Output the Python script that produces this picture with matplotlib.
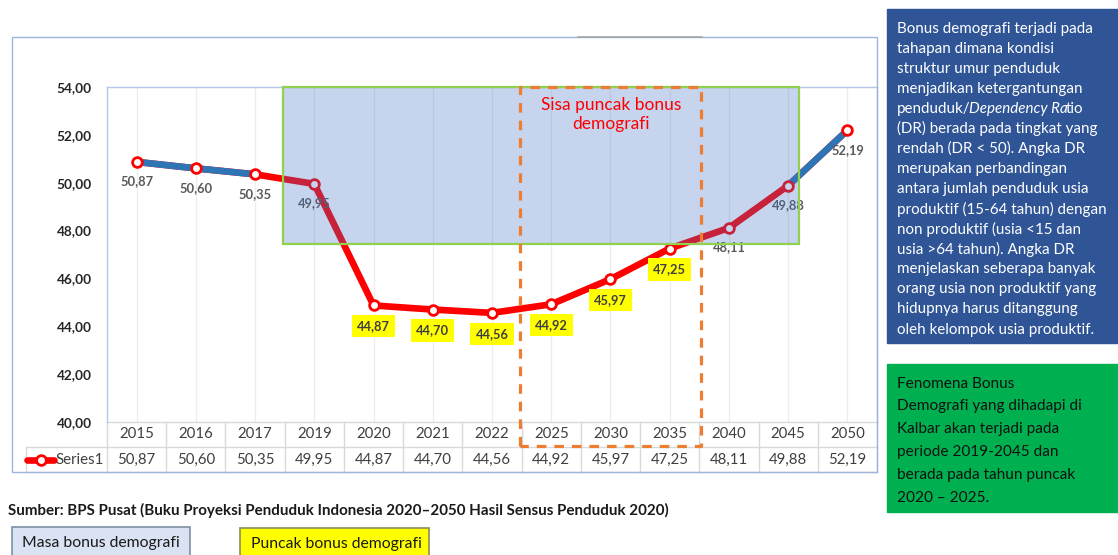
import matplotlib
matplotlib.use("Agg")
import matplotlib.pyplot as plt
from matplotlib.patches import Rectangle
from matplotlib.lines import Line2D
from matplotlib.transforms import blended_transform_factory

plt.rcParams['font.family'] = ['Lato', 'DejaVu Sans']

# data
years = ['2015', '2016', '2017', '2019', '2020', '2021', '2022',
         '2025', '2030', '2035', '2040', '2045', '2050']
dr = [50.87, 50.60, 50.35, 49.95, 44.87, 44.70, 44.56,
      44.92, 45.97, 47.25, 48.11, 49.88, 52.19]
peak_years = ['2020', '2021', '2022', '2025', '2030', '2035']
blue_parts = [('2015', '2017'), ('2045', '2050')]
series_name = 'Series1'

info_text = [
    'Bonus demografi terjadi pada',
    'tahapan dimana kondisi',
    'struktur umur penduduk',
    'menjadikan ketergantungan',
    None,  # line with italic part
    '(DR) berada pada tingkat yang',
    'rendah (DR < 50). Angka DR',
    'merupakan perbandingan',
    'antara jumlah penduduk usia',
    'produktif (15-64 tahun) dengan',
    'non produktif (usia <15 dan',
    'usia >64 tahun). Angka DR',
    'menjelaskan seberapa banyak',
    'orang usia non produktif yang',
    'hidupnya harus ditanggung',
    'oleh kelompok usia produktif.',
]
italic_line = [('penduduk/', 'normal'), ('Dependency Ra', 'italic'), ('tio', 'normal')]
green_text = ['Fenomena Bonus', 'Demografi yang dihadapi di', 'Kalbar akan terjadi pada',
              'periode 2019-2045 dan', 'berada pada tahun puncak', '2020 \u2013 2025.']

W, H = 1118, 555
fig = plt.figure(figsize=(W / 100, H / 100), dpi=100)


def fx(px):
    return px / W


def fy(py):
    return 1 - py / H


def fmt(v):
    return f"{v:.2f}".replace('.', ',')


RED = '#FF0000'
BLUE = '#2E75B6'
TXT = '#404040'

# outer chart border
fig.add_artist(Rectangle((fx(12), fy(472)), fx(877) - fx(12), fy(37) - fy(472),
                         transform=fig.transFigure, fill=False, ec='#9DB5DF', lw=1))
fig.add_artist(Line2D([fx(578), fx(702)], [fy(37), fy(37)], transform=fig.transFigure,
                      color='#A6A6A6', lw=1.2))

ax = fig.add_axes([fx(107), fy(422), fx(877) - fx(107), fy(87) - fy(422)])
x = list(range(len(years)))
ax.set_xlim(-0.5, len(years) - 0.5)
ax.set_ylim(40, 54)
ax.set_yticks(range(40, 55, 2))
ax.set_yticklabels([fmt(v) for v in range(40, 55, 2)], fontweight='bold', fontsize=9.8,
                   color='#262626')
ax.set_xticks(x)
ax.set_xticklabels([])
ax.tick_params(length=0, pad=11)
ax.grid(axis='x', color='#EDEDED', lw=0.9)
for s in ['left', 'top', 'right']:
    ax.spines[s].set_color('#B4C7E7')
    ax.spines[s].set_linewidth(1)
ax.spines['bottom'].set_visible(False)

# line
ax.plot(x, dr, color=RED, lw=4.8, solid_capstyle='round', solid_joinstyle='round', zorder=3)
for a, b in blue_parts:
    i0, i1 = years.index(a), years.index(b)
    ax.plot(x[i0:i1 + 1], dr[i0:i1 + 1], color=BLUE, lw=4.8, solid_capstyle='butt',
            solid_joinstyle='round', zorder=3)
ax.plot(x, dr, ls='none', marker='o', ms=7, mfc='white', mec=RED, mew=2, zorder=4)

# data labels
for i, v in enumerate(dr):
    if years[i] in peak_years:
        ax.annotate(fmt(v), (i, v), xytext=(0, -15), textcoords='offset points',
                    ha='center', va='center', fontsize=9.3, fontweight='bold', color=TXT,
                    bbox=dict(boxstyle='square,pad=0.4', fc='#FFFF00', ec='none'), zorder=5)
    else:
        ax.annotate(fmt(v), (i, v), xytext=(0, -14), textcoords='offset points',
                    ha='center', va='center', fontsize=9.3, fontweight='bold', color='#595959',
                    zorder=5)

# bonus period box
ax.add_patch(Rectangle((2.47, 47.44), 11.18 - 2.47, 54 - 47.44, fc='#4472C4', alpha=0.3,
                       ec='none', zorder=6))
ax.add_patch(Rectangle((2.47, 47.44), 11.18 - 2.47, 54 - 47.44, fill=False,
                       ec='#92D050', lw=1.6, zorder=6, clip_on=False))

# table + dashed peak box in blended coords
tr = blended_transform_factory(ax.transData, ax.transAxes)
rh = 25 / 335
ox0, ox1, oyb = 6.47, 9.53, -0.0716
ax.add_line(Line2D([ox0, ox0, ox1, ox1, ox0], [oyb, 1.0, 1.0, oyb, oyb], transform=tr,
                   color='#ED7D31', lw=2.3, ls=(0, (3, 2.5)), clip_on=False, zorder=7))
ax.text(8.01, 52.85, 'Sisa puncak bonus\ndemografi', ha='center', va='center',
        fontsize=12.5, color='#FF0000', linespacing=1.2, zorder=8)

grid_c = '#D9D9D9'
hx0 = -1.868
ax.add_line(Line2D([-0.5, len(years) - 0.5], [0, 0], transform=tr, color=grid_c, lw=1,
                   clip_on=False))
for yy in [-rh, -2 * rh]:
    ax.add_line(Line2D([hx0, len(years) - 0.5], [yy, yy], transform=tr, color=grid_c, lw=1,
                       clip_on=False))
for i in range(len(years) + 1):
    ax.add_line(Line2D([i - 0.5, i - 0.5], [0, -2 * rh], transform=tr, color=grid_c, lw=1,
                       clip_on=False))
ax.add_line(Line2D([hx0, hx0], [-rh, -2 * rh], transform=tr, color=grid_c, lw=1, clip_on=False))
for i, (yr, v) in enumerate(zip(years, dr)):
    ax.text(i, -0.5 * rh, yr, transform=tr, ha='center', va='center', fontsize=10.8, color=TXT)
    ax.text(i, -1.5 * rh, fmt(v), transform=tr, ha='center', va='center', fontsize=10.8,
            color=TXT)

# legend key inside table
fig.add_artist(Line2D([fx(27), fx(54)], [fy(460), fy(460)], transform=fig.transFigure,
                      color=RED, lw=4.8, solid_capstyle='round'))
fig.add_artist(Line2D([fx(41)], [fy(460)], transform=fig.transFigure, ls='none', marker='o',
                      ms=7, mfc='white', mec=RED, mew=2))
fig.text(fx(55), fy(460), series_name, ha='left', va='center', fontsize=10.8, color=TXT)

# source
fig.text(fx(8), fy(510), 'Sumber: BPS Pusat (Buku Proyeksi Penduduk Indonesia 2020\u20132050 '
         'Hasil Sensus Penduduk 2020)', ha='left', va='center', fontsize=10.9,
         fontweight='bold', color='#1A1A1A')

# bottom keys
fig.add_artist(Rectangle((fx(12), fy(562)), fx(190) - fx(12), fy(527) - fy(562),
                         transform=fig.transFigure, fc='#DAE3F3', ec='#7F8FA6', lw=1.2))
fig.text(fx(22), fy(543), 'Masa bonus demografi', ha='left', va='center', fontsize=11.3,
         color='#1A1A1A')
fig.add_artist(Rectangle((fx(240), fy(562)), fx(429) - fx(240), fy(528) - fy(562),
                         transform=fig.transFigure, fc='#FFFF00', ec='#8C8C5A', lw=1.2))
fig.text(fx(251), fy(544), 'Puncak bonus demografi', ha='left', va='center', fontsize=11.3,
         color='#1A1A1A')

# right info boxes
fig.add_artist(Rectangle((fx(887), fy(343)), fx(1118) - fx(887), fy(9) - fy(343),
                         transform=fig.transFigure, fc='#2F5597', ec='#2F5597'))
renderer = fig.canvas.get_renderer()
for k, line in enumerate(info_text):
    yy = fy(27 + k * 20.07)
    if line is None:
        xx = fx(897)
        for seg, style in italic_line:
            t = fig.text(xx, yy, seg, ha='left', va='center_baseline', fontsize=10.9,
                         color='white', style=style)
            xx += (t.get_window_extent(renderer).width - 2) / W
    else:
        fig.text(fx(897), yy, line, ha='left', va='center_baseline', fontsize=10.9,
                 color='white')

fig.add_artist(Rectangle((fx(887), fy(512)), fx(1118) - fx(887), fy(364) - fy(512),
                         transform=fig.transFigure, fc='#00B050', ec='#00B050'))
for k, line in enumerate(green_text):
    fig.text(fx(897), fy(382 + k * 22.8), line, ha='left', va='center_baseline',
             fontsize=11.1, color='#111111')

fig.savefig('out.png', dpi=100)
